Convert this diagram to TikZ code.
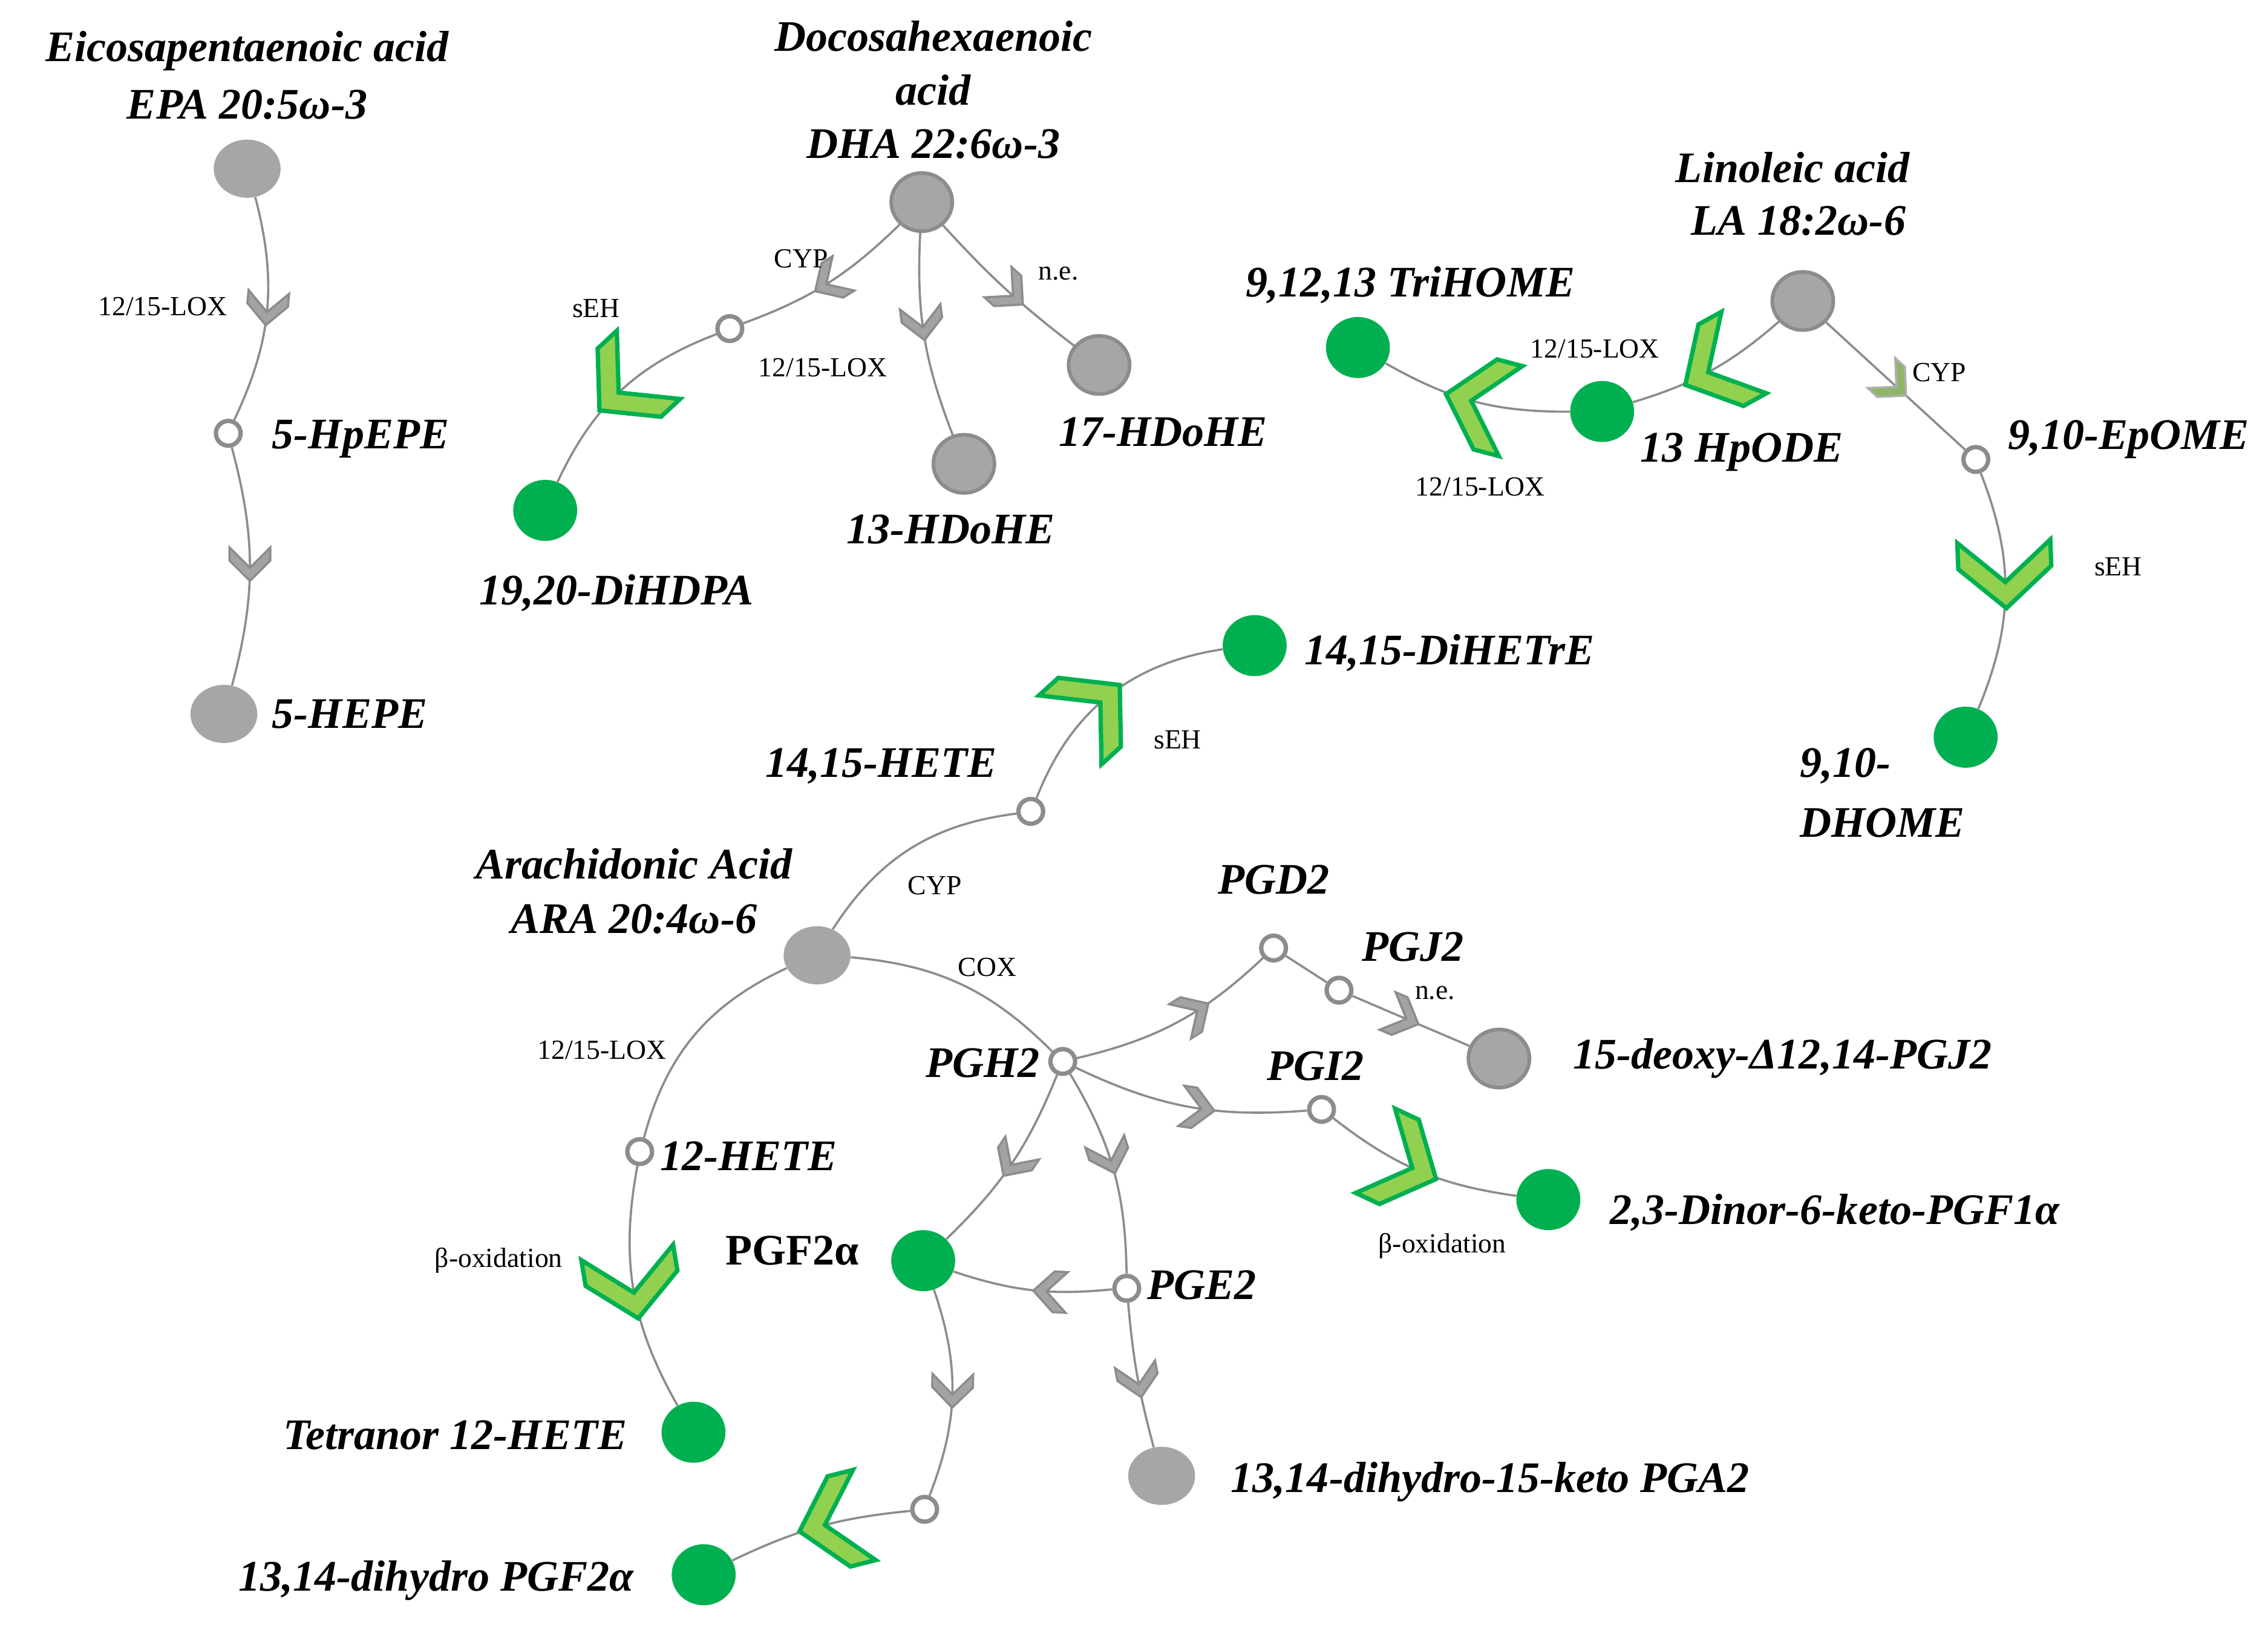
\documentclass[tikz,border=0pt]{standalone}
\usepackage{fontspec}
\setmainfont{Liberation Serif}
\usetikzlibrary{shapes.geometric,decorations.markings}
\definecolor{gfill}{HTML}{A6A6A6}
\definecolor{gline}{HTML}{8C8C8C}
\definecolor{dgreen}{HTML}{00B050}
\definecolor{lgreen}{HTML}{92D050}
\tikzset{
 gnode/.style={ellipse,fill=gfill,draw=gline,line width=2.5,minimum width=42,minimum height=40,inner sep=0},
 lgnode/.style={ellipse,fill=gfill,draw=none,minimum width=46,minimum height=40,inner sep=0},
 grnode/.style={ellipse,fill=dgreen,draw=none,minimum width=44,minimum height=42,inner sep=0},
 onode/.style={circle,fill=white,draw=gline,line width=3,minimum size=17,inner sep=0},
 big/.style={font=\fontsize{30}{34}\selectfont\bfseries\itshape,inner sep=0},
 bigup/.style={font=\fontsize{30}{34}\selectfont\bfseries,inner sep=0},
 small/.style={font=\fontsize{19}{21}\selectfont,inner sep=0},
 conn/.style={draw=gline,line width=1.5},
 garr/.style={conn,postaction={decorate},decoration={markings,mark=at position #1 with {
   \filldraw[fill=gline!80,draw=gline,line width=1.5] (10,0)--(-4,14)--(-13,14)--(1,0)--(-13,-14)--(-4,-14)--cycle;}}},
 garr/.default=0.5,
 grarr/.style={conn,postaction={decorate},decoration={markings,mark=at position #1 with {
   \filldraw[fill=lgreen,draw=dgreen,line width=3] (20,0)--(-8,32)--(-26,32)--(2,0)--(-26,-32)--(-8,-32)--cycle;}}},
 grarr/.default=0.5,
}
\begin{document}
\begin{tikzpicture}[x=1pt,y=-1pt]
\useasboundingbox (0,0) rectangle (1560,1123);
% nodes
\node[lgnode] (epa) at (170,116) {};
\node[onode] (hpepe) at (157,298) {};
\node[lgnode] (hepe) at (154,491) {};
\node[gnode] (dha) at (634,139) {};
\node[onode] (oc1) at (502,226) {};
\node[grnode] (dihdpa) at (375,351) {};
\node[gnode] (hdohe13) at (663,319) {};
\node[gnode] (hdohe17) at (756,251) {};
\node[gnode] (la) at (1240,207) {};
\node[grnode] (hpode) at (1102,283) {};
\node[grnode] (trihome) at (934,239) {};
\node[onode] (epome) at (1359,316) {};
\node[grnode] (dhome) at (1352,507) {};
\node[lgnode] (ara) at (562,657) {};
\node[onode] (hete1415) at (709,558) {};
\node[grnode] (dihetre) at (863,444) {};
\node[onode] (pgh2) at (731,730) {};
\node[onode] (pgd2) at (876,652) {};
\node[onode] (pgj2) at (921,681) {};
\node[gnode] (deoxy) at (1031,728) {};
\node[onode] (pgi2) at (909,763) {};
\node[grnode] (dinor) at (1065,825) {};
\node[grnode] (pgf2a) at (635,867) {};
\node[onode] (pge2) at (775,886) {};
\node[lgnode] (pga2) at (799,1015) {};
\node[onode] (oc2) at (636,1038) {};
\node[grnode] (dhpgf) at (484,1083) {};
\node[onode] (hete12) at (440,792) {};
\node[grnode] (tetranor) at (477,985) {};
% connectors
\draw[garr] (epa) to[bend left=20] (hpepe);
\draw[garr] (hpepe) to[bend left=15] (hepe);
\draw[garr] (dha) to[bend left=12] (oc1);
\draw[grarr] (oc1) to[bend right=22] (dihdpa);
\draw[garr=0.45] (dha) to[bend right=12] (hdohe13);
\draw[garr=0.55] (dha) to[bend right=5] (hdohe17);
\draw[grarr=0.5] (la) to[bend left=12] (hpode);
\draw[grarr] (hpode) to[bend left=15] (trihome);
\draw[conn,postaction={decorate},decoration={markings,mark=at position 0.5 with {
   \filldraw[fill=lgreen!60!gline,draw=gline!70,line width=1.5] (10,0)--(-4,14)--(-13,14)--(1,0)--(-13,-14)--(-4,-14)--cycle;}}] (la) -- (epome);
\draw[grarr=0.45] (epome) to[bend left=22] (dhome);
\draw[conn] (ara) to[bend left=25] (hete1415);
\draw[grarr=0.45] (hete1415) to[bend left=30] (dihetre);
\draw[conn] (ara) to[bend left=20] (pgh2);
\draw[conn] (ara) to[bend right=25] (hete12);
\draw[grarr] (hete12) to[bend right=20] (tetranor);
\draw[garr=0.6] (pgh2) to[bend right=15] (pgd2);
\draw[conn] (pgd2) -- (pgj2);
\draw[garr=0.45] (pgj2) -- (deoxy);
\draw[garr=0.55] (pgh2) to[bend right=15] (pgi2);
\draw[grarr=0.45] (pgi2) to[bend right=15] (dinor);
\draw[garr] (pgh2) to[bend left=12] (pgf2a);
\draw[garr=0.45] (pgh2) to[bend left=15] (pge2);
\draw[garr=0.4] (pge2) to[bend left=12] (pgf2a);
\draw[garr=0.55] (pge2) to[bend right=5] (pga2);
\draw[garr] (pgf2a) to[bend left=20] (oc2);
\draw[grarr=0.45] (oc2) to[bend right=10] (dhpgf);
% labels
\node[big] (t1) at (170,35) {Eicosapentaenoic acid};
\node[big] (t2) at (170,72) {EPA 20:5ω-3};
\node[big,anchor=west] (t3) at (187,302) {5-HpEPE};
\node[big,anchor=west] (t4) at (187,491) {5-HEPE};
\node[small] (s1) at (112,211) {12/15-LOX};
\node[big] (t5) at (642,25) {Docosahexaenoic};
\node[big] (t6) at (642,62) {acid};
\node[big] (t7) at (642,99) {DHA 22:6ω-3};
\node[small] (s2) at (551,178) {CYP};
\node[small] (s3) at (410,212) {sEH};
\node[small] (s4) at (566,253) {12/15-LOX};
\node[small] (s5) at (728,188) {n.e.};
\node[big] (t8) at (424,408) {19,20-DiHDPA};
\node[big] (t9) at (654,364) {13-HDoHE};
\node[big] (t10) at (800,297) {17-HDoHE};
\node[big] (t11) at (1233,115) {Linoleic acid};
\node[big] (t12) at (1237,152) {LA 18:2ω-6};
\node[big] (t13) at (970,196) {9,12,13 TriHOME};
\node[small] (s6) at (1097,240) {12/15-LOX};
\node[small] (s7) at (1018,335) {12/15-LOX};
\node[big] (t14) at (1198,311) {13 HpODE};
\node[small] (s8) at (1334,256) {CYP};
\node[big] (t15) at (1464,302) {9,10-EpOME};
\node[small] (s9) at (1457,390) {sEH};
\node[big,anchor=west] (t16) at (1238,527) {9,10-};
\node[big,anchor=west] (t17) at (1238,566) {DHOME};
\node[big] (t18) at (997,449) {14,15-DiHETrE};
\node[small] (s10) at (810,509) {sEH};
\node[big] (t19) at (606,527) {14,15-HETE};
\node[big] (t20) at (436,594) {Arachidonic Acid};
\node[big] (t21) at (436,632) {ARA 20:4ω-6};
\node[small] (s11) at (643,609) {CYP};
\node[small] (s12) at (679,665) {COX};
\node[big] (t22) at (876,605) {PGD2};
\node[big] (t23) at (972,651) {PGJ2};
\node[small] (s13) at (987,683) {n.e.};
\node[big] (t24) at (1226,728) {15-deoxy-Δ12,14-PGJ2};
\node[big] (t25) at (676,731) {PGH2};
\node[big] (t26) at (905,733) {PGI2};
\node[big] (t27) at (1262,834) {2,3-Dinor-6-keto-PGF1α};
\node[small] (s14) at (992,857) {β-oxidation};
\node[small] (s15) at (414,722) {12/15-LOX};
\node[big,anchor=west] (t28) at (454,795) {12-HETE};
\node[small] (s16) at (343,867) {β-oxidation};
\node[bigup] (t29) at (545,860) {PGF2α};
\node[big,anchor=west] (t30) at (789,884) {PGE2};
\node[big] (t31) at (313,987) {Tetranor 12-HETE};
\node[big] (t32) at (1025,1019) {13,14-dihydro-15-keto PGA2};
\node[big] (t33) at (300,1087) {13,14-dihydro PGF2α};
\end{tikzpicture}
\end{document}
